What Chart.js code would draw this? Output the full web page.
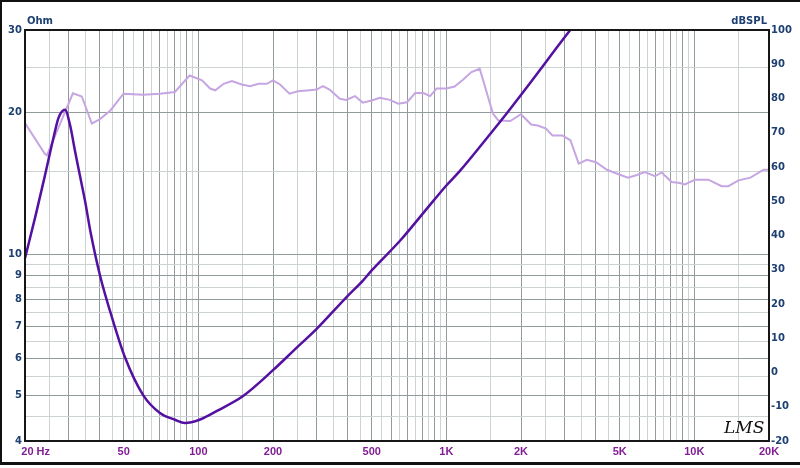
<!DOCTYPE html>
<html>
<head>
<meta charset="utf-8">
<script src="https://cdn.jsdelivr.net/npm/chart.js@4"></script>
<style>
  html, body { margin: 0; padding: 0; background: #fff; }
  #wrap { position: relative; width: 800px; height: 468px; }
  #frame { position: absolute; left: 0; top: 0; width: 798px; height: 460px;
           border-left: 2px solid #111; border-top: 2px solid #111; border-bottom: 3px solid #111;
           pointer-events: none; }
</style>
</head>
<body>
<div id="wrap">
  <canvas id="lms" width="800" height="468"></canvas>
  <div id="frame"></div>
</div>
<script>
// Impedance (Ohm) curve
const impFreq = [20, 22, 24, 26, 27.3, 29, 30.4, 31.8, 33.3, 34.9, 36.8, 40.2, 44.2, 50.6, 59.9, 70, 80.5, 88.3, 101, 120, 151, 200, 250, 300, 396, 461, 500, 653, 888, 1000, 1130, 1500, 1760, 2173, 2740, 3160, 3623];
const impOhm  = [9.8, 12.0, 14.6, 17.6, 19.5, 20.3, 18.8, 16.6, 14.7, 13.0, 11.1, 8.97, 7.52, 6.03, 5.01, 4.59, 4.44, 4.37, 4.44, 4.65, 4.98, 5.66, 6.33, 6.93, 8.1, 8.78, 9.23, 10.7, 13.0, 14.0, 15.0, 18.0, 20.0, 23.1, 27.2, 30, 33];

// SPL (dB) curve
const splFreq = [20, 24, 24.5, 28.4, 31.2, 33.9, 37.2, 40, 44.2, 49.9, 59.9, 70, 80.4, 92.2, 103.5, 111.5, 117, 126.5, 136.5, 149.6, 161.6, 175, 189, 200, 213.6, 233, 252, 281, 300, 318, 338, 372, 395, 428, 460, 500, 539, 591, 640, 694, 749, 808, 860, 914, 1000, 1080, 1167, 1262, 1363, 1541, 1620, 1810, 2000, 2197, 2333, 2522, 2676, 2935, 3165, 3417, 3682, 4015, 4440, 4980, 5400, 5830, 6310, 6940, 7380, 8100, 8740, 9160, 10050, 11380, 12890, 13710, 15070, 16830, 19030, 20000];
const splDb   = [72.8, 63.9, 63.4, 74.5, 81.5, 80.6, 72.7, 73.9, 76.5, 81.4, 81.1, 81.4, 81.9, 86.7, 85.3, 82.9, 82.4, 84.3, 85.1, 84.1, 83.6, 84.3, 84.3, 85.3, 84.1, 81.4, 82.1, 82.4, 82.6, 83.6, 82.6, 79.9, 79.6, 80.7, 78.8, 79.4, 80.2, 79.6, 78.5, 78.9, 81.6, 81.6, 80.7, 82.9, 82.9, 83.5, 85.5, 87.7, 88.7, 75.6, 73.6, 73.4, 75.4, 72.4, 72.1, 71.2, 69.2, 69.2, 67.8, 61.0, 62.1, 61.4, 59.2, 57.8, 56.9, 57.6, 58.5, 57.3, 58.4, 55.6, 55.3, 54.9, 56.3, 56.3, 54.4, 54.4, 56.1, 56.9, 59.2, 59.2];

// tick labels
const freqLabelValues = [20, 50, 100, 200, 500, 1000, 2000, 5000, 10000, 20000];
const freqLabelTexts  = ['       20 Hz', '50', '100', '200', '500', '1K', '2K', '5K', '10K', '20K'];
const ohmLabelValues  = [4, 5, 6, 7, 8, 9, 10, 20, 30];
const dbMin = -20, dbMax = 100, dbStep = 10;

// grid lines: every half step of each decade
const freqGrid = [];
[10, 100, 1000, 10000].forEach(d => {
    for (let m = 1.5; m <= 10; m += 0.5) {
        const v = m * d;
        if (v >= 20 && v <= 20000) freqGrid.push({ value: v, major: Number.isInteger(m) });
    }
});
const ohmGrid = [];
for (let v = 4; v <= 10; v += 0.5) ohmGrid.push({ value: v, major: Number.isInteger(v) });
[15, 20, 25, 30].forEach(v => ohmGrid.push({ value: v, major: v % 10 === 0 }));

const GRID_MAJOR = '#939c9c';
const GRID_MINOR = '#cdd3d3';
const NAVY = '#1d3f72';
const PURPLE = '#821e95';
const AXIS = '#161616';

const isMajor = (list, v) => list.some(t => t.major && Math.abs(t.value - v) < 1e-6);

const framePlugin = {
    id: 'frame',
    afterDatasetsDraw(chart) {
        const { ctx, chartArea: a } = chart;
        ctx.save();
        ctx.strokeStyle = AXIS;
        ctx.lineWidth = 2;
        ctx.strokeRect(a.left, a.top, a.right - a.left, a.bottom - a.top);
        ctx.fillStyle = NAVY;
        ctx.font = 'bold 10px "DejaVu Sans"';
        ctx.textBaseline = 'middle';
        ctx.textAlign = 'left';
        ctx.fillText('Ohm', 27, 21);
        ctx.textAlign = 'right';
        ctx.fillText('dBSPL', 767, 21);
        ctx.fillStyle = '#111';
        ctx.font = 'italic 17px "DejaVu Serif"';
        ctx.textAlign = 'left';
        ctx.textBaseline = 'alphabetic';
        ctx.fillText('LMS', 724, 433);
        ctx.restore();
    }
};

new Chart(document.getElementById('lms'), {
    type: 'line',
    data: {
        datasets: [
            {
                label: 'Ohm',
                data: impFreq.map((f, i) => ({ x: f, y: impOhm[i] })),
                yAxisID: 'y',
                borderColor: '#5410a0',
                borderWidth: 2.5,
                pointRadius: 0,
                cubicInterpolationMode: 'monotone',
                order: 0
            },
            {
                label: 'dBSPL',
                data: splFreq.map((f, i) => ({ x: f, y: splDb[i] })),
                yAxisID: 'y2',
                borderColor: '#c6a6e2',
                borderWidth: 2,
                pointRadius: 0,
                tension: 0,
                order: 1
            }
        ]
    },
    options: {
        responsive: false,
        animation: false,
        events: [],
        layout: { padding: { top: 30, left: 0, right: 0, bottom: 0 } },
        plugins: { legend: { display: false }, tooltip: { enabled: false } },
        scales: {
            x: {
                type: 'logarithmic',
                min: 20, max: 20000,
                afterBuildTicks: (axis) => { axis.ticks = freqGrid.map(t => ({ value: t.value })); },
                afterFit: (axis) => { axis.height = 27; axis.paddingLeft = 0; axis.paddingRight = 0; },
                grid: {
                    drawTicks: false,
                    lineWidth: 1,
                    color: (c) => isMajor(freqGrid, c.tick.value) ? GRID_MAJOR : GRID_MINOR
                },
                border: { color: AXIS, width: 2 },
                ticks: {
                    autoSkip: false, maxRotation: 0, minRotation: 0, padding: 4,
                    color: PURPLE,
                    font: { family: 'Liberation Sans', size: 11, weight: 'bold' },
                    callback: (v) => {
                        const i = freqLabelValues.findIndex(l => Math.abs(l - v) < 1e-6);
                        return i >= 0 ? freqLabelTexts[i] : '';
                    }
                }
            },
            y: {
                type: 'logarithmic',
                position: 'left',
                min: 4, max: 30,
                afterBuildTicks: (axis) => { axis.ticks = ohmGrid.map(t => ({ value: t.value })); },
                afterFit: (axis) => { axis.width = 25; },
                grid: {
                    drawTicks: false,
                    lineWidth: 1,
                    color: (c) => isMajor(ohmGrid, c.tick.value) ? GRID_MAJOR : GRID_MINOR
                },
                border: { color: AXIS, width: 2 },
                ticks: {
                    autoSkip: false, padding: 3,
                    color: NAVY,
                    font: { family: 'DejaVu Sans', size: 10, weight: 'bold' },
                    callback: (v) => ohmLabelValues.some(l => Math.abs(l - v) < 1e-6) ? String(v) : ''
                }
            },
            y2: {
                type: 'linear',
                position: 'right',
                min: dbMin, max: dbMax,
                afterFit: (axis) => { axis.width = 31; },
                grid: { display: false, drawTicks: false },
                border: { color: AXIS, width: 2 },
                ticks: {
                    stepSize: dbStep, padding: 2,
                    color: NAVY,
                    font: { family: 'DejaVu Sans', size: 10, weight: 'bold' }
                }
            }
        }
    },
    plugins: [framePlugin]
});
</script>
</body>
</html>
